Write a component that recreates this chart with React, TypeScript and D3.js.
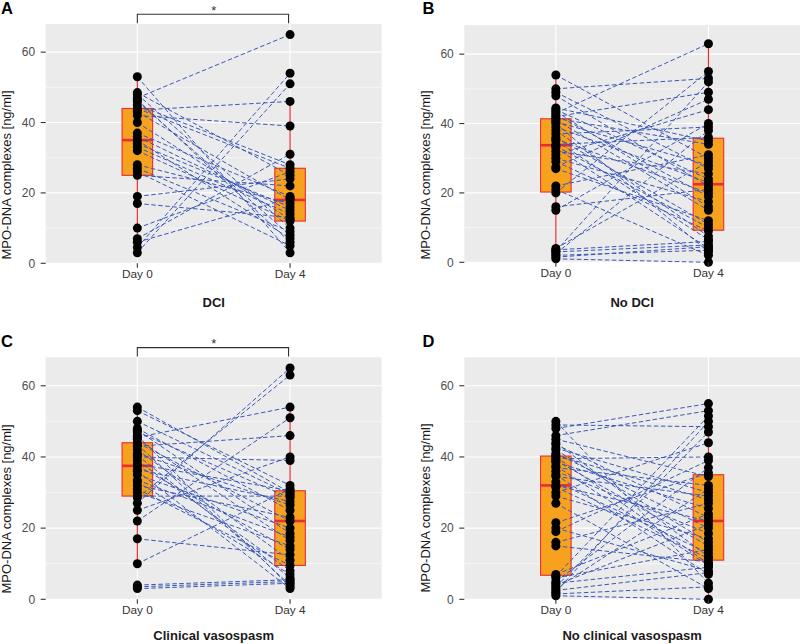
import React from "react";
import * as d3 from "d3";

const CATEGORIES = ["Day 0", "Day 4"];
const Y_TICKS = [0, 20, 40, 60];
const Y_MINOR = [10, 30, 50];
const PANEL_LETTERS = ["A", "B", "C", "D"];
const X_TITLES = ["DCI", "No DCI", "Clinical vasospasm", "No clinical vasospasm"];
const SIGNIF = ["*", "", "*", ""];
const Y_TITLE = "MPO-DNA complexes [ng/ml]";

// paired values: DAY0[i] is linked to DAY4[i]
const A_DAY0 = [3, 4.5, 6, 7, 10, 17, 19, 25, 26, 27, 28, 32, 33, 34, 35, 36, 37, 40, 42, 43, 43.5, 44, 45, 46, 46.5, 47, 48, 48.5, 53];
const A_DAY4 = [51, 54, 18.5, 31, 26, 13, 24, 22, 5, 9, 17, 12, 14, 16, 7, 15, 19, 12.5, 39, 18, 46, 27, 28, 8, 6, 65, 10, 25, 3];

const B_DAY0 = [1, 1.5, 2, 2.5, 3, 3.2, 3.6, 4, 15, 16, 20, 21, 22, 27, 27.5, 29, 30, 31, 32, 33, 33.5, 34, 35, 35.5, 36, 37, 38, 39, 40, 40.5, 41, 41.5, 42, 42.5, 43, 43.5, 44, 44.5, 48, 49, 50, 54];
const B_DAY4 = [0, 4.5, 3.5, 38, 5, 52, 6, 29, 40, 21, 55, 2, 31, 12, 47, 9, 17.5, 44, 25.5, 4, 10, 36, 6.5, 20, 11, 39, 7.5, 23, 3, 28, 15, 34, 49, 19, 63, 16, 24, 35, 22, 27, 53, 30];

const C_DAY0 = [3, 3.5, 4, 10, 17, 22, 25, 27, 28.5, 29, 30, 31, 32, 33, 33.5, 35, 36, 36.5, 37.5, 38, 39, 40, 40.5, 41, 42, 43, 43.5, 44, 45, 45.5, 46, 47, 47.5, 48, 50, 53, 54];
const C_DAY4 = [4.5, 5, 5.5, 31, 12.5, 51, 40, 65, 63, 29, 15, 9.5, 23, 7, 17.5, 20, 3, 27.5, 14, 30.5, 8, 39, 6, 26.5, 11, 46, 4, 22, 16.5, 54, 3.5, 28.5, 18.5, 25, 29.5, 32, 30];

const D_DAY0 = [1, 1.5, 2, 2.5, 3, 3.5, 4, 4.5, 5, 6, 6.5, 7, 15, 16, 19, 20, 21.5, 27, 29, 30, 31.5, 32, 33, 34.5, 35, 36, 37, 37.5, 38.5, 39, 39.5, 40, 40.5, 41, 42, 42.5, 43.5, 44, 45, 46, 48, 49, 50];
const D_DAY4 = [0, 3.5, 50, 7.5, 31, 47, 21, 9, 37, 14, 51.5, 24, 10.5, 27, 39, 8, 35.5, 3, 17, 44, 11.5, 22, 13, 29, 7, 18.5, 32, 9.5, 25.5, 15, 40, 10, 28, 20, 16, 30, 23, 12, 34.5, 53, 55, 48.5, 4.5];

const PANEL_DATA = [
  [A_DAY0, A_DAY4],
  [B_DAY0, B_DAY4],
  [C_DAY0, C_DAY4],
  [D_DAY0, D_DAY4],
];

const LAYOUT = [
  { left: 45.7, right: 381.7, top: 24, bottom: 263.3, yMax: 68, letterX: 1, letterY: 13.5, xTitleY: 306.5, yTitleY: 175 },
  { left: 464.3, right: 800, top: 25, bottom: 262.3, yMax: 68.4, letterX: 422.5, letterY: 13.5, xTitleY: 306.5, yTitleY: 175 },
  { left: 45.7, right: 381.7, top: 357.3, bottom: 599.3, yMax: 68, letterX: 1, letterY: 346.7, xTitleY: 639.5, yTitleY: 509 },
  { left: 464.3, right: 800, top: 357.3, bottom: 599.3, yMax: 68, letterX: 422.5, letterY: 346.7, xTitleY: 639.5, yTitleY: 508 },
];

const FONT = "'Liberation Sans', Arial, Helvetica, sans-serif";
const ORANGE = "#F6A21E";
const RED = "#EC2B33";
const BLUE = "#3A57B6";
const PANEL_BG = "#EBEBEB";

function boxStats(vals: number[]) {
  const s = [...vals].sort(d3.ascending);
  const q1 = d3.quantileSorted(s, 0.25) as number;
  const med = d3.quantileSorted(s, 0.5) as number;
  const q3 = d3.quantileSorted(s, 0.75) as number;
  const iqr = q3 - q1;
  const lo = d3.min(s.filter((v) => v >= q1 - 1.5 * iqr)) as number;
  const hi = d3.max(s.filter((v) => v <= q3 + 1.5 * iqr)) as number;
  return { q1, med, q3, lo, hi };
}

function Panel({ idx }: { idx: number }) {
  const L = LAYOUT[idx];
  const [day0, day4] = PANEL_DATA[idx];
  const x = d3.scalePoint<string>().domain(CATEGORIES).range([L.left, L.right]).padding(0.6);
  const y = d3.scaleLinear().domain([0, L.yMax]).range([L.bottom, L.top]);
  const step = x.step();
  const bw = step * 0.2;
  const series = [day0, day4];
  const x0 = x(CATEGORIES[0]) as number;
  const x4 = x(CATEGORIES[1]) as number;
  const sig = SIGNIF[idx];
  const bracketY = L.top - 9.7;

  return (
    <g>
      <rect x={L.left} y={L.top} width={L.right - L.left} height={L.bottom - L.top} fill={PANEL_BG} />
      {Y_MINOR.map((t) => (
        <line key={"mn" + t} x1={L.left} x2={L.right} y1={y(t)} y2={y(t)} stroke="#fff" strokeWidth={0.55} />
      ))}
      {Y_TICKS.map((t) => (
        <line key={"mj" + t} x1={L.left} x2={L.right} y1={y(t)} y2={y(t)} stroke="#fff" strokeWidth={1.1} />
      ))}
      {CATEGORIES.map((c) => (
        <line key={"vg" + c} x1={x(c)} x2={x(c)} y1={L.top} y2={L.bottom} stroke="#fff" strokeWidth={1.1} />
      ))}
      {/* boxplots */}
      {series.map((vals, k) => {
        const st = boxStats(vals);
        const cx = x(CATEGORIES[k]) as number;
        return (
          <g key={"box" + k}>
            <line x1={cx} x2={cx} y1={y(st.hi)} y2={y(st.q3)} stroke={RED} strokeWidth={1.2} />
            <line x1={cx} x2={cx} y1={y(st.q1)} y2={y(st.lo)} stroke={RED} strokeWidth={1.2} />
            <rect x={cx - bw / 2} y={y(st.q3)} width={bw} height={y(st.q1) - y(st.q3)} fill={ORANGE} stroke={RED} strokeWidth={1.1} />
            <line x1={cx - bw / 2} x2={cx + bw / 2} y1={y(st.med)} y2={y(st.med)} stroke={RED} strokeWidth={2.6} />
          </g>
        );
      })}
      {/* paired lines */}
      {day0.map((v, i) => (
        <line key={"pl" + i} x1={x0} y1={y(v)} x2={x4} y2={y(day4[i])} stroke={BLUE} strokeWidth={1} strokeDasharray="4.5 2.5" />
      ))}
      {/* points */}
      {series.map((vals, k) =>
        vals.map((v, i) => <circle key={"pt" + k + "-" + i} cx={x(CATEGORIES[k])} cy={y(v)} r={4.5} fill="#000" />)
      )}
      {/* y axis */}
      {Y_TICKS.map((t) => (
        <g key={"yt" + t}>
          <line x1={L.left - 5} x2={L.left} y1={y(t)} y2={y(t)} stroke="#333" strokeWidth={1.1} />
          <text x={L.left - 10.5} y={y(t)} dy="0.35em" textAnchor="end" fontSize={12} fill="#4D4D4D" fontFamily={FONT}>
            {t}
          </text>
        </g>
      ))}
      {/* x axis */}
      {CATEGORIES.map((c) => (
        <g key={"xt" + c}>
          <line x1={x(c)} x2={x(c)} y1={L.bottom} y2={L.bottom + 4.5} stroke="#333" strokeWidth={1.1} />
          <text x={x(c)} y={L.bottom + 14.7} textAnchor="middle" fontSize={11.8} fill="#333" fontFamily={FONT}>
            {c}
          </text>
        </g>
      ))}
      <text x={(L.left + L.right) / 2} y={L.xTitleY} textAnchor="middle" fontSize={13} fontWeight="bold" fill="#1a1a1a" fontFamily={FONT}>
        {X_TITLES[idx]}
      </text>
      <text
        transform={`translate(${L.left - 39},${L.yTitleY}) rotate(-90)`}
        dy="0.35em"
        textAnchor="middle"
        fontSize={13}
        fill="#1a1a1a"
        fontFamily={FONT}
      >
        {Y_TITLE}
      </text>
      <text x={L.letterX} y={L.letterY} fontSize={16.5} fontWeight="bold" fill="#000" fontFamily={FONT}>
        {PANEL_LETTERS[idx]}
      </text>
      {sig && (
        <g>
          <path
            d={`M${x0},${L.top - 0.7}V${bracketY}H${x4 - 1.5}V${L.top - 0.7}`}
            fill="none"
            stroke="#333"
            strokeWidth={1.1}
          />
          <text x={(x0 + x4) / 2} y={bracketY + 0.5} textAnchor="middle" fontSize={13} fill="#333" fontFamily={FONT}>
            {sig}
          </text>
        </g>
      )}
    </g>
  );
}

export default function App() {
  return (
    <svg width={800} height={644} style={{ position: "absolute", left: 0, top: 0, background: "#fff" }}>
      <rect x={0} y={0} width={800} height={644} fill="#fff" />
      {LAYOUT.map((_, i) => (
        <Panel key={i} idx={i} />
      ))}
    </svg>
  );
}
